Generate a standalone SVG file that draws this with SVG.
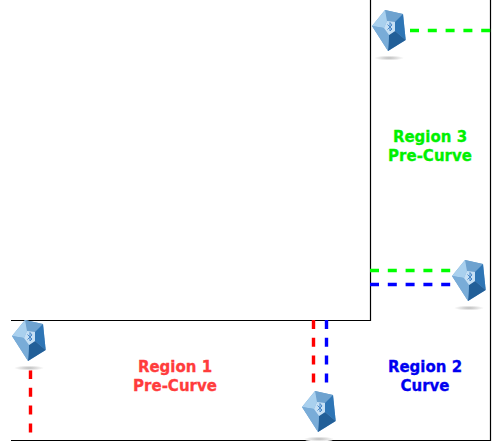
<svg xmlns="http://www.w3.org/2000/svg" xmlns:xlink="http://www.w3.org/1999/xlink" width="501" height="444" viewBox="0 0 501 444">
<style>
.wall{fill:none;stroke:#000;stroke-width:1.200}
.dash{fill:none;stroke-width:3.400;stroke-dasharray:9 8.800}
.lbl{font-family:"DejaVu Sans",sans-serif;font-weight:bold;font-size:15px;text-anchor:middle;stroke-width:0.300}
.r{fill:#ff3c3c;stroke:#ff3c3c}
.b{fill:#0000f0;stroke:#0000f0}
.g{fill:#00f000;stroke:#00f000}
</style>
<defs>
<radialGradient id="sh"><stop offset="0" stop-color="#bbb"/><stop offset="1" stop-color="#fff"/></radialGradient>
<filter id="soft" x="-10%" y="-10%" width="120%" height="120%"><feGaussianBlur stdDeviation="0.400"/></filter>
<g id="beacon">
<ellipse cx="17" cy="48" rx="15" ry="2.500" fill="url(#sh)"/>
<g filter="url(#soft)">
<polygon points="13,0 31,4 33.700,30 16,41 0,16" fill="#6fa3d2"/>
<polygon points="13,0 31,4 23,12 15,11" fill="#6ea2cf"/>
<polygon points="13,0 15,11 12,18 0,16" fill="#a9d0ee"/>
<polygon points="31,4 33.700,30 23,21 23,12" fill="#2f75b5"/>
<polygon points="33.700,30 16,41 17,25 23,21" fill="#245f98"/>
<polygon points="0,16 12,18 17,25 16,41" fill="#79acd8"/>
<polygon points="15,11 23,12 23,21 17,25 12,18" fill="#c6e0f5"/>
<path d="M15.500,14.500 L20,19 L18,21 V12.500 L20,15 L15.500,19.500" fill="none" stroke="#4a88c8" stroke-width="1"/>
</g>
</g>
</defs>
<rect width="501" height="444" fill="#fff"/>
<g id="connectors">
<path class="wall" d="M370.500,0V320.500H11"/>
<path class="wall" d="M490.500,0V440.500H11"/>
<path class="dash" stroke="#0f0" d="M410,30.500H491"/>
<path class="dash" stroke="#0f0" d="M370,270.500H452"/>
<path class="dash" stroke="#00f" d="M370,284.500H452"/>
<path class="dash" stroke="#f00" d="M30.500,370V434"/>
<path class="dash" stroke="#f00" d="M313.500,320V384"/>
<path class="dash" stroke="#00f" d="M326.500,320V384"/>
</g>
<g id="beacon1"><use xlink:href="#beacon" href="#beacon" x="372" y="10"/></g>
<g id="beacon2"><use xlink:href="#beacon" href="#beacon" x="452" y="260"/></g>
<g id="beacon3"><use xlink:href="#beacon" href="#beacon" x="12" y="320"/></g>
<g id="beacon4"><use xlink:href="#beacon" href="#beacon" x="302" y="391"/></g>
<g id="region1"><text class="lbl r" x="175" y="372">Region 1</text><text class="lbl r" x="175" y="391">Pre-Curve</text></g>
<g id="region2"><text class="lbl b" x="425" y="372">Region 2</text><text class="lbl b" x="425" y="391">Curve</text></g>
<g id="region3"><text class="lbl g" x="430" y="142">Region 3</text><text class="lbl g" x="430" y="161">Pre-Curve</text></g>
</svg>
